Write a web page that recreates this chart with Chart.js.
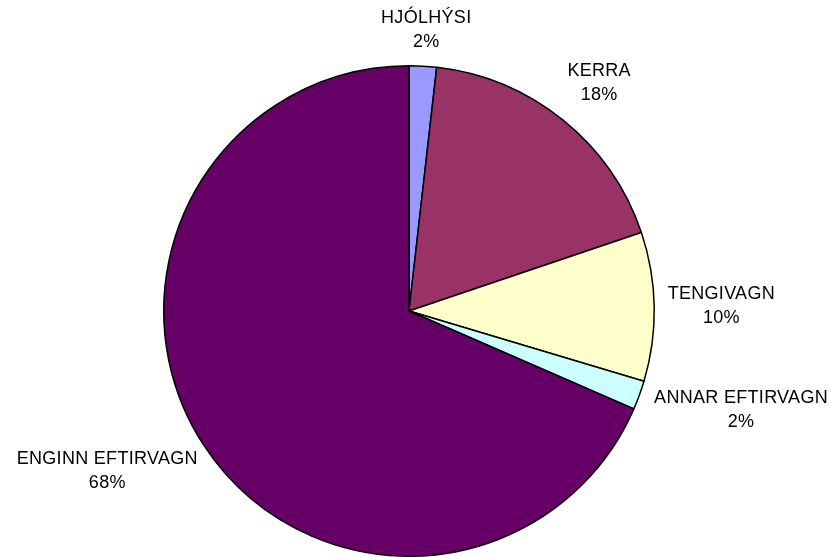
<!DOCTYPE html>
<html>
<head>
<meta charset="utf-8">
<script src="https://cdn.jsdelivr.net/npm/chart.js@4.4.0/dist/chart.umd.min.js"></script>
<style>
html,body{margin:0;padding:0;background:#fff;}
#wrap{width:838px;height:557px;}
</style>
</head>
<body>
<div id="wrap"><canvas id="c" width="838" height="557"></canvas></div>
<script>
const categories = ['HJÓLHÝSI', 'KERRA', 'TENGIVAGN', 'ANNAR EFTIRVAGN', 'ENGINN EFTIRVAGN'];
const shares = [1.8, 18.0, 9.8, 1.9, 68.4];
const sliceColors = ['#9999FF', '#993366', '#FFFFCC', '#CCFFFF', '#660066'];

const labelPlugin = {
  id: 'outLabels',
  afterDatasetsDraw(chart) {
    const ctx = chart.ctx;
    const meta = chart.getDatasetMeta(0);
    const total = shares.reduce((a, b) => a + b, 0);
    ctx.save();
    ctx.font = '18px "Liberation Sans", Arial, sans-serif';
    ctx.fillStyle = '#000';
    ctx.textAlign = 'center';
    ctx.textBaseline = 'middle';
    if ('letterSpacing' in ctx) ctx.letterSpacing = '0.3px';
    const lineGap = 24;
    meta.data.forEach((arc, i) => {
      const p = arc.getProps(['x', 'y', 'startAngle', 'endAngle', 'outerRadius'], true);
      const mid = (p.startAngle + p.endAngle) / 2;
      const s = Math.cos(mid), c = Math.sin(mid);
      const d = p.outerRadius + 13 + 13 * Math.abs(Math.sin(2 * mid));
      const ax = p.x + d * s, ay = p.y + d * c;
      const l1 = categories[i];
      const l2 = Math.round(shares[i] / total * 100) + '%';
      const w = Math.max(ctx.measureText(l1).width, ctx.measureText(l2).width);
      const h = 44;
      const cx = ax + (w / 2) * s;
      const cy = ay + (h / 2) * c;
      ctx.fillText(l1, cx, cy - lineGap / 2);
      ctx.fillText(l2, cx, cy + lineGap / 2);
    });
    ctx.restore();
  }
};

new Chart(document.getElementById('c'), {
  type: 'pie',
  data: {
    labels: categories,
    datasets: [{
      data: shares,
      backgroundColor: sliceColors,
      borderColor: '#000',
      borderWidth: 1.5
    }]
  },
  options: {
    responsive: false,
    animation: false,
    layout: { padding: { left: 163, right: 183, top: 65, bottom: 0 } },
    plugins: { legend: { display: false }, tooltip: { enabled: false } }
  },
  plugins: [labelPlugin]
});
</script>
</body>
</html>
